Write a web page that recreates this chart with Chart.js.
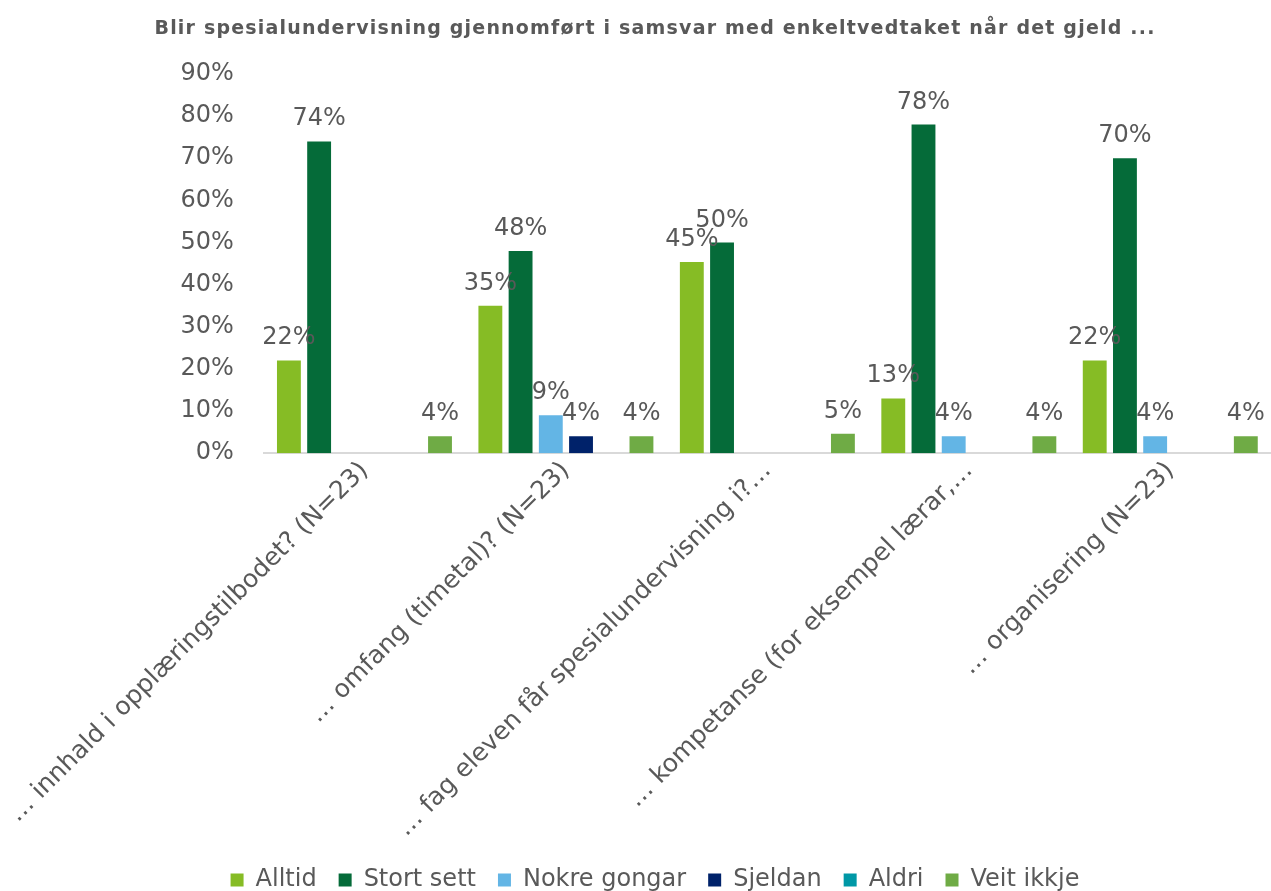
<!DOCTYPE html>
<html>
<head>
<meta charset="utf-8">
<script src="https://cdn.jsdelivr.net/npm/chart.js@4"></script>
<style>
  html, body { margin: 0; padding: 0; background: #fff; }
  #wrap { width: 1271px; height: 891px; position: relative; }
</style>
</head>
<body>
<div id="wrap"><canvas id="chart"></canvas></div>
<script>
"use strict";

// ── data ──
const title = "Blir spesialundervisning gjennomført i samsvar med enkeltvedtaket når det gjeld ...";
const categories = [
  "… innhald i opplæringstilbodet? (N=23)",
  "… omfang (timetal)? (N=23)",
  "… fag eleven får spesialundervisning i?…",
  "… kompetanse (for eksempel lærar,…",
  "… organisering (N=23)"
];
const seriesNames = ["Alltid", "Stort sett", "Nokre gongar", "Sjeldan", "Aldri", "Veit ikkje"];
const alltid      = [22, 35, 45.4, 13, 22];
const stortSett   = [74, 48, 50, 78, 70];
const nokreGongar = [0, 9, 0, 4, 4];
const sjeldan     = [0, 4, 0, 0, 0];
const aldri       = [0, 0, 0, 0, 0];
const veitIkkje   = [4, 4, 4.6, 4, 4];
const yTicks      = [0, 10, 20, 30, 40, 50, 60, 70, 80, 90];

const colors = ["#86bc25", "#056b39", "#63b5e5", "#00226a", "#0098a6", "#6fab45"];
const TXT = "#595959";
const FONT = "'DejaVu Sans', Verdana, sans-serif";

// % labels above bars + the title (drawn by hand so it can be letter-spaced)
const extras = {
  id: "extras",
  afterLayout(chart) {
    // legend in the original sits a bit right of centre
    chart.legend.left += 22;
    chart.legend.right += 22;
  },
  afterDatasetsDraw(chart) {
    const ctx = chart.ctx;
    ctx.save();
    ctx.font = "24px " + FONT;
    ctx.fillStyle = TXT;
    ctx.textAlign = "center";
    ctx.textBaseline = "alphabetic";
    chart.data.datasets.forEach((ds, i) => {
      chart.getDatasetMeta(i).data.forEach((bar, j) => {
        const v = ds.data[j];
        if (!v) return;
        ctx.fillText(Math.round(v) + "%", bar.x, bar.y - 16);
      });
    });
    ctx.restore();
  },
  afterDraw(chart) {
    const ctx = chart.ctx;
    ctx.save();
    ctx.font = "bold 19px " + FONT;
    ctx.letterSpacing = "1.2px";
    ctx.fillStyle = TXT;
    ctx.textAlign = "center";
    ctx.textBaseline = "middle";
    ctx.fillText(title, 655, 29);
    ctx.restore();
  }
};

const allSeries = [alltid, stortSett, nokreGongar, sjeldan, aldri, veitIkkje];

new Chart(document.getElementById("chart"), {
  type: "bar",
  data: {
    labels: categories,
    datasets: allSeries.map((d, i) => ({
      label: seriesNames[i],
      data: d,
      backgroundColor: colors[i],
      categoryPercentage: 0.9,
      barPercentage: 0.79
    }))
  },
  options: {
    responsive: true,
    maintainAspectRatio: false,
    animation: false,
    layout: { padding: { left: -5, right: 0, top: 74, bottom: -11 } },
    plugins: {
      title: { display: false },
      legend: {
        position: "bottom",
        labels: {
          color: TXT,
          font: { family: FONT, size: 24 },
          boxWidth: 13,
          boxHeight: 13,
          padding: 22
        }
      },
      tooltip: { enabled: false }
    },
    scales: {
      x: {
        grid: { display: false, drawTicks: false },
        border: { color: "#d9d9d9", width: 2 },
        ticks: {
          color: TXT,
          font: { family: FONT, size: 25 },
          minRotation: 45,
          maxRotation: 45,
          autoSkip: false,
          padding: 3
        }
      },
      y: {
        min: 0,
        max: 90,
        afterBuildTicks: axis => { axis.ticks = yTicks.map(v => ({ value: v })); },
        grid: { display: false },
        border: { display: false },
        ticks: {
          color: TXT,
          font: { family: FONT, size: 24 },
          padding: 22,
          callback: v => v + "%"
        }
      }
    }
  },
  plugins: [extras]
});
</script>
</body>
</html>
